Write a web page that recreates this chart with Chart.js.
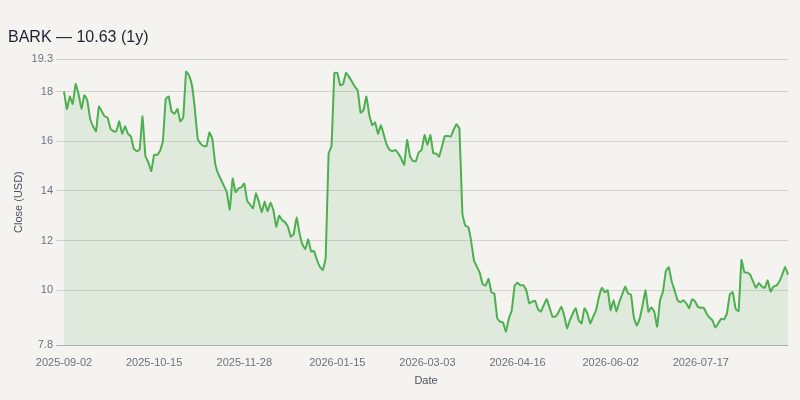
<!DOCTYPE html>
<html>
<head>
<meta charset="utf-8">
<title>BARK close</title>
<script src="https://cdn.jsdelivr.net/npm/chart.js@4/dist/chart.umd.min.js"></script>
<style>
  html, body { margin: 0; padding: 0; background: #f5f3ef; }
  #wrap { width: 800px; height: 400px; position: relative; }
</style>
</head>
<body>
<div id="wrap"><canvas id="chart"></canvas></div>
<script>
// Daily closes, one per trading day from 2025-09-02
const closeValues = [
  18.0, 17.3, 17.8, 17.5, 18.3, 17.9, 17.3, 17.85, 17.65, 16.9,
  16.6, 16.4, 17.4, 17.2, 17.0, 16.95, 16.5, 16.4, 16.4, 16.8,
  16.3, 16.6, 16.3, 16.2, 15.7, 15.6, 15.65, 17.0, 15.4, 15.15,
  14.8, 15.45, 15.45, 15.6, 16.0, 17.7, 17.8, 17.2, 17.1, 17.3,
  16.8, 16.95, 18.8, 18.65, 18.25, 17.3, 16.1, 15.9, 15.8, 15.8,
  16.35, 16.1, 15.1, 14.7, 14.45, 14.2, 13.95, 13.25, 14.5, 13.95,
  14.1, 14.15, 14.3, 13.6, 13.45, 13.3, 13.9, 13.57, 13.13, 13.57,
  13.17, 13.53, 13.23, 12.56, 13.0, 12.83, 12.74, 12.56, 12.16, 12.26,
  12.94, 12.3, 11.85, 11.66, 12.05, 11.56, 11.58, 11.22, 10.95, 10.82,
  11.3, 15.5, 15.8, 18.75, 18.75, 18.25, 18.3, 18.75, 18.6, 18.4,
  18.2, 18.05, 17.15, 17.25, 17.8, 17.05, 16.65, 16.75, 16.3, 16.65,
  16.25, 15.85, 15.65, 15.6, 15.65, 15.5, 15.3, 15.05, 16.05, 15.4,
  15.2, 15.2, 15.55, 15.65, 16.25, 15.85, 16.25, 15.52, 15.5, 15.38,
  15.79, 16.21, 16.21, 16.19, 16.46, 16.68, 16.5, 13.1, 12.6, 12.55,
  12.0, 11.2, 10.95, 10.7, 10.24, 10.19, 10.46, 9.92, 9.87, 8.87,
  8.74, 8.71, 8.34, 8.87, 9.2, 10.2, 10.3, 10.2, 10.2, 10.0,
  9.48, 9.54, 9.58, 9.25, 9.14, 9.4, 9.65, 9.3, 8.94, 8.94,
  9.1, 9.34, 9.0, 8.47, 8.8, 9.07, 9.28, 8.8, 8.67, 9.28,
  9.07, 8.67, 8.94, 9.2, 9.74, 10.1, 9.92, 10.0, 9.2, 9.6,
  9.14, 9.54, 9.84, 10.15, 9.88, 9.82, 8.9, 8.58, 8.87, 9.4,
  10.0, 9.14, 9.32, 9.14, 8.54, 9.6, 9.95, 10.78, 10.93, 10.35,
  10.0, 9.6, 9.52, 9.6, 9.48, 9.28, 9.64, 9.57, 9.34, 9.3,
  9.3, 9.07, 8.9, 8.8, 8.5, 8.67, 8.85, 8.83, 9.07, 9.84,
  9.92, 9.25, 9.17, 11.22, 10.72, 10.71, 10.62, 10.35, 10.1, 10.3,
  10.15, 10.1, 10.4, 9.95, 10.15, 10.19, 10.35, 10.62, 10.95, 10.63
];

const startDate = '2025-09-02';
const marketHolidays = ['2025-11-27', '2025-12-25', '2026-01-01', '2026-01-19',
  '2026-02-16', '2026-04-03', '2026-05-25', '2026-06-19', '2026-07-03'];

const xTickLabels = ['2025-09-02', '2025-10-15', '2025-11-28', '2026-01-15',
  '2026-03-03', '2026-04-16', '2026-06-02', '2026-07-17'];
const yTickValues = [7.8, 10, 12, 14, 16, 18, 19.3];
const yMin = 7.8, yMax = 19.3;

// trading days -> category labels
function tradingDays(start, count) {
  let out = [];
  let d = new Date(start + 'T00:00:00Z');
  while (out.length < count) {
    let iso = d.toISOString().slice(0, 10);
    let wd = d.getUTCDay();
    if (wd !== 0 && wd !== 6 && !marketHolidays.includes(iso)) out.push(iso);
    d.setUTCDate(d.getUTCDate() + 1);
  }
  return out;
}
const dateLabels = tradingDays(startDate, closeValues.length);

const fontFamily = '"Liberation Sans", Arial, Helvetica, sans-serif';
const tickColor = '#6b7280';

new Chart(document.getElementById('chart'), {
  type: 'line',
  data: {
    labels: dateLabels,
    datasets: [{
      label: 'Close',
      data: closeValues,
      borderColor: '#4caf50',
      backgroundColor: 'rgba(76, 175, 80, 0.12)',
      borderWidth: 2,
      pointRadius: 0,
      tension: 0.1,
      fill: 'start'
    }]
  },
  options: {
    responsive: true,
    maintainAspectRatio: false,
    animation: false,
    layout: { padding: { left: 8, right: 12, top: 16, bottom: 8 } },
    plugins: {
      legend: { display: false },
      tooltip: { enabled: false },
      title: {
        display: true,
        text: 'BARK \u2014 10.63 (1y)',
        align: 'start',
        color: '#1c2230',
        font: { family: fontFamily, size: 16, weight: 'normal' },
        padding: { top: 12, bottom: 12 }
      }
    },
    scales: {
      x: {
        type: 'category',
        grid: { display: false },
        border: { display: false },
        ticks: {
          autoSkip: false,
          maxRotation: 0,
          color: tickColor,
          font: { family: fontFamily, size: 11 }
        },
        afterBuildTicks: axis => {
          axis.ticks = axis.ticks.filter(t => xTickLabels.includes(dateLabels[t.value]));
        },
        afterFit: axis => { axis.height = 47; },
        title: {
          display: true,
          text: 'Date',
          color: '#4b5260',
          font: { family: fontFamily, size: 11 }
        }
      },
      y: {
        min: yMin,
        max: yMax,
        border: { display: false },
        grid: {
          color: c => c.tick && c.tick.value === yMin ? '#a9aeb7' : '#d2d2d0',
          lineWidth: 1
        },
        ticks: {
          color: tickColor,
          font: { family: fontFamily, size: 11 },
          callback: v => String(v)
        },
        afterBuildTicks: axis => {
          axis.ticks = yTickValues.map(v => ({ value: v }));
        },
        afterFit: axis => { axis.width = 56; },
        title: {
          display: true,
          text: 'Close (USD)',
          color: '#4b5260',
          font: { family: fontFamily, size: 11 }
        }
      }
    }
  }
});
</script>
</body>
</html>
